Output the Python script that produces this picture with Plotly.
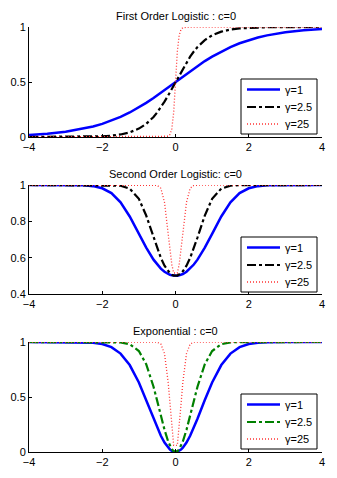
import plotly.graph_objects as go
from plotly.subplots import make_subplots

# shared x sample positions
X = [-4, -3.5, -3, -2.5, -2.25, -2, -1.75, -1.5, -1.25, -1, -0.8, -0.6, -0.5, -0.4, -0.3,
     -0.2, -0.15, -0.1, -0.05, 0.05, 0.1, 0.15, 0.2, 0.3, 0.4, 0.5, 0.6, 0.8, 1, 1.25,
     1.5, 1.75, 2, 2.25, 2.5, 3, 3.5, 4]

# First order logistic
log1_g1 = [0.018, 0.029, 0.047, 0.076, 0.095, 0.119, 0.148, 0.182, 0.223, 0.269, 0.310, 0.354,
           0.378, 0.401, 0.426, 0.450, 0.463, 0.475, 0.488, 0.512, 0.525, 0.537, 0.550, 0.574,
           0.599, 0.622, 0.646, 0.690, 0.731, 0.777, 0.818, 0.852, 0.881, 0.905, 0.924, 0.953,
           0.971, 0.982]
log1_g25 = [0.0000, 0.0002, 0.0006, 0.0019, 0.0036, 0.0067, 0.0124, 0.023, 0.042, 0.076, 0.119,
            0.182, 0.223, 0.269, 0.321, 0.378, 0.407, 0.438, 0.469, 0.531, 0.562, 0.593, 0.622,
            0.679, 0.731, 0.777, 0.818, 0.881, 0.924, 0.958, 0.977, 0.9876, 0.9933, 0.9964,
            0.9981, 0.9994, 0.9998, 1.0000]
log1_g250 = [0, 0, 0, 0, 0, 0, 0, 0, 0, 0, 0, 0, 0, 0, 0.0006, 0.0067, 0.023, 0.076, 0.223,
             0.777, 0.924, 0.977, 0.9933, 0.9994, 1, 1, 1, 1, 1, 1, 1, 1, 1, 1, 1, 1, 1, 1]

# Second order logistic
log2_g1 = [1.0, 1.0, 0.9999, 0.9981, 0.9937, 0.982, 0.9553, 0.9047, 0.8267, 0.7311, 0.6548,
           0.589, 0.5622, 0.5399, 0.5225, 0.510, 0.5056, 0.5025, 0.5006, 0.5006, 0.5025,
           0.5056, 0.510, 0.5225, 0.5399, 0.5622, 0.589, 0.6548, 0.7311, 0.8267, 0.9047,
           0.9553, 0.982, 0.9937, 0.9981, 0.9999, 1.0, 1.0]
log2_g25 = [1.0, 1.0, 1.0, 1.0, 1.0, 1.0, 0.9995, 0.9964, 0.9803, 0.9241, 0.832, 0.711, 0.6514,
            0.5987, 0.556, 0.525, 0.514, 0.5062, 0.5016, 0.5016, 0.5062, 0.514, 0.525, 0.556,
            0.5987, 0.6514, 0.711, 0.832, 0.9241, 0.9803, 0.9964, 0.9995, 1.0, 1.0, 1.0, 1.0,
            1.0, 1.0]
log2_g250 = [1.0, 1.0, 1.0, 1.0, 1.0, 1.0, 1.0, 1.0, 1.0, 1.0, 1.0, 0.9999, 0.998, 0.982, 0.905,
             0.731, 0.637, 0.562, 0.5156, 0.5156, 0.562, 0.637, 0.731, 0.905, 0.982, 0.998,
             0.9999, 1.0, 1.0, 1.0, 1.0, 1.0, 1.0, 1.0, 1.0, 1.0, 1.0, 1.0]

# Exponential
exp_g1 = [1.0, 1.0, 0.9999, 0.9981, 0.9937, 0.9817, 0.9532, 0.8946, 0.7904, 0.6321, 0.4727,
          0.3023, 0.2212, 0.1479, 0.0861, 0.0392, 0.0223, 0.0100, 0.0025, 0.0025, 0.0100,
          0.0223, 0.0392, 0.0861, 0.1479, 0.2212, 0.3023, 0.4727, 0.6321, 0.7904, 0.8946,
          0.9532, 0.9817, 0.9937, 0.9981, 0.9999, 1.0, 1.0]
exp_g25 = [1.0, 1.0, 1.0, 1.0, 1.0, 1.0, 0.9995, 0.9964, 0.9799, 0.9179, 0.7981, 0.5934, 0.4647,
           0.3297, 0.2015, 0.0952, 0.0547, 0.0247, 0.0062, 0.0062, 0.0247, 0.0547, 0.0952,
           0.2015, 0.3297, 0.4647, 0.5934, 0.7981, 0.9179, 0.9799, 0.9964, 0.9995, 1.0, 1.0,
           1.0, 1.0, 1.0, 1.0]
exp_g250 = [1.0, 1.0, 1.0, 1.0, 1.0, 1.0, 1.0, 1.0, 1.0, 1.0, 1.0, 0.9999, 0.9981, 0.9817,
            0.8946, 0.6321, 0.4302, 0.2212, 0.0606, 0.0606, 0.2212, 0.4302, 0.6321, 0.8946,
            0.9817, 0.9981, 0.9999, 1.0, 1.0, 1.0, 1.0, 1.0, 1.0, 1.0, 1.0, 1.0, 1.0, 1.0]

TITLES = ["First Order Logistic : c=0", "Second Order Logistic: c=0", "Exponential : c=0"]
NAMES = ["γ=1", "γ=2.5", "γ=25"]
X_TICKS = [-4, -2, 0, 2, 4]
Y_TICKS = [[0, 0.5, 1], [0.4, 0.6, 0.8, 1], [0, 0.5, 1]]
Y_RANGES = [[0, 1], [0.4, 1], [0, 1]]

panels = [
    [log1_g1, log1_g25, log1_g250],
    [log2_g1, log2_g25, log2_g250],
    [exp_g1, exp_g25, exp_g250],
]
mid_colors = ["black", "black", "#008000"]

FONT = "Liberation Sans, Arial, sans-serif"

fig = make_subplots(rows=3, cols=1, vertical_spacing=0.1)

# plot area: 293 x 425 px; panel domains (paper fractions)
PW, PH = 293.0, 425.0
domains = [[0.7412, 1.0], [0.3718, 0.6282], [0.0, 0.2588]]


def px_x(p):
    return p / PW


def px_y(top_frac, p):
    # p pixels below the top of a panel whose top is at paper fraction top_frac
    return top_frac - p / PH


shapes = []
annotations = []
for i, ys in enumerate(panels):
    styles = [
        dict(color="#0000ff", width=2.5, dash="solid"),
        dict(color=mid_colors[i], width=2.2, dash="dashdot"),
        dict(color="#ff3333", width=1.3, dash="1px,2px"),
    ]
    for j in range(3):
        fig.add_trace(go.Scatter(x=X, y=ys[j], mode="lines", name=NAMES[j], line=styles[j],
                                 showlegend=False),
                      row=i + 1, col=1)

    # legend box drawn in the lower right of each panel
    top = domains[i][1]
    shapes.append(dict(type="rect", xref="paper", yref="paper",
                       x0=px_x(212), x1=px_x(288), y0=px_y(top, 52), y1=px_y(top, 107),
                       line=dict(color="black", width=1), fillcolor="white", layer="above"))
    for j, off in enumerate([62.5, 80, 97]):
        yy = px_y(top, off)
        shapes.append(dict(type="line", xref="paper", yref="paper",
                           x0=px_x(218), x1=px_x(251), y0=yy, y1=yy,
                           line=styles[j], layer="above"))
        annotations.append(dict(text=NAMES[j], xref="paper", yref="paper", x=px_x(254), y=yy,
                                xanchor="left", yanchor="middle", showarrow=False,
                                font=dict(size=11, color="black", family=FONT)))

layout_kw = {}
for i in range(3):
    ax = "" if i == 0 else str(i + 1)
    layout_kw["xaxis" + ax] = dict(range=[-4, 4], tickvals=X_TICKS, showgrid=False, zeroline=False,
                                   showline=True, linecolor="black", linewidth=1, ticks="inside",
                                   ticklen=3, tickcolor="black", mirror=False, automargin=False,
                                   domain=[0, 1],
                                   tickfont=dict(size=11, color="black", family=FONT))
    layout_kw["yaxis" + ax] = dict(range=Y_RANGES[i], tickvals=Y_TICKS[i], domain=domains[i],
                                   showgrid=False, zeroline=False, showline=True, linecolor="black",
                                   linewidth=1, ticks="inside", ticklen=3, tickcolor="black",
                                   mirror=False, automargin=False,
                                   tickfont=dict(size=11, color="black", family=FONT))

for i in range(3):
    annotations.append(dict(text=TITLES[i], xref="paper", yref="paper", x=0.5, y=domains[i][1],
                            xanchor="center", yanchor="bottom", yshift=3, showarrow=False,
                            font=dict(size=11, color="black", family=FONT)))

# page body has an 8px default margin, so the figure is 8px smaller than the window
fig.update_layout(width=329, height=470, margin=dict(l=21, r=15, t=19, b=26),
                  plot_bgcolor="white", paper_bgcolor="white", annotations=annotations,
                  shapes=shapes, showlegend=False, **layout_kw)

fig.write_html("out.html")
